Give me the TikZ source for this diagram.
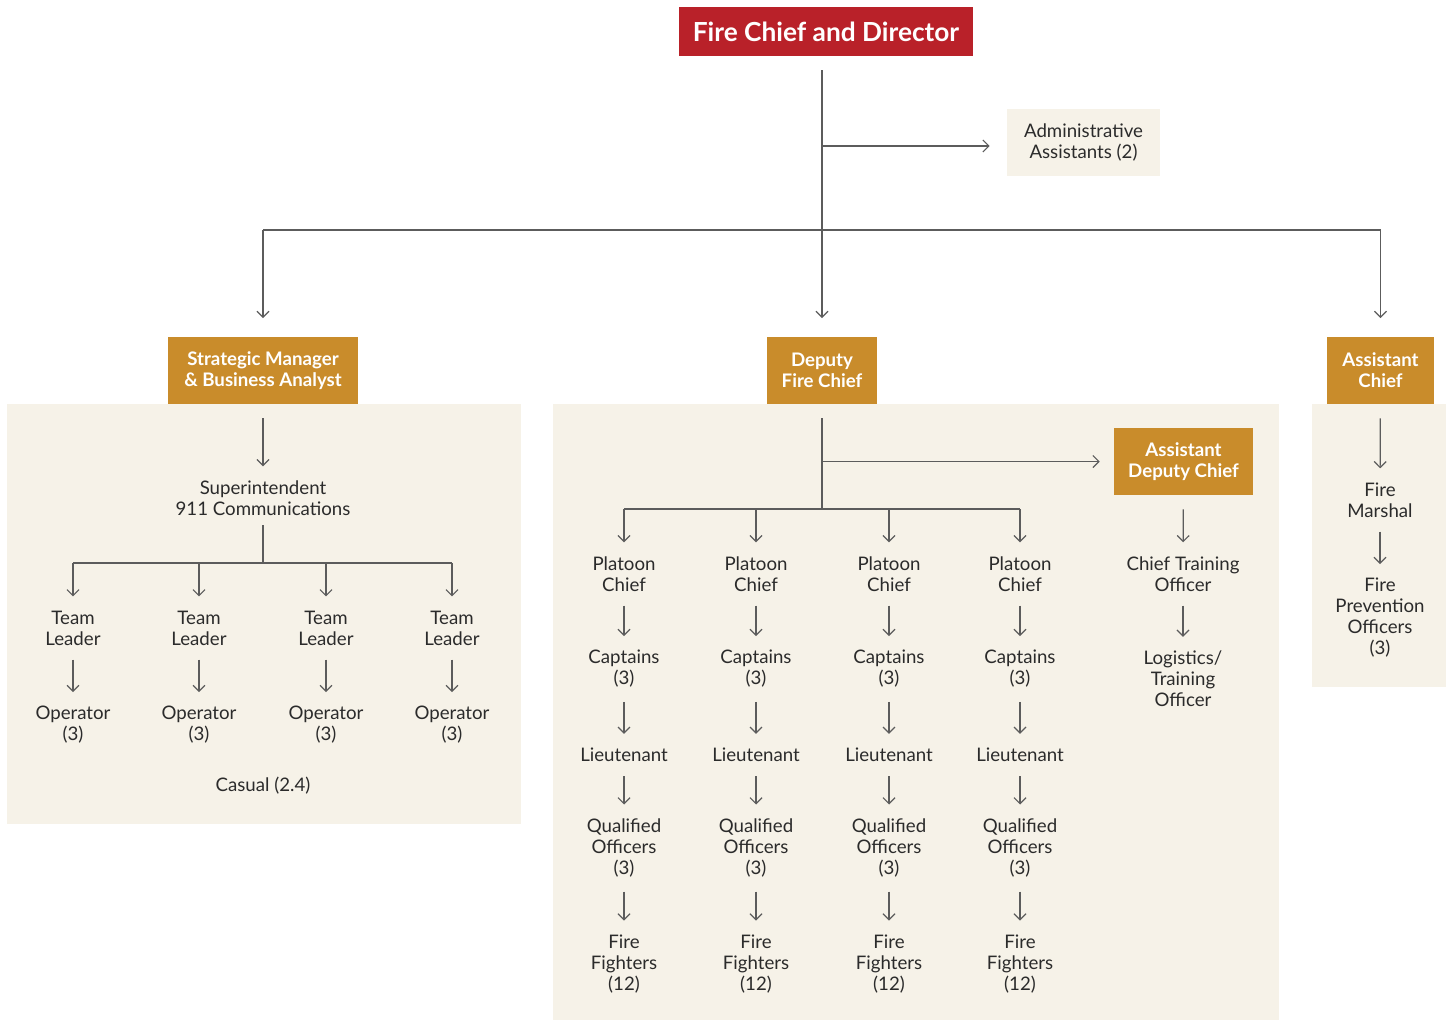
\documentclass[tikz,border=0pt]{standalone}
\usepackage{fontspec}
\setmainfont{Lato}
\usetikzlibrary{arrows.meta,positioning}
\definecolor{chiefred}{HTML}{B92129}
\definecolor{gold}{HTML}{C98C2B}
\definecolor{cream}{HTML}{F6F2E8}
\definecolor{ink}{HTML}{2B2B2B}
\definecolor{wirec}{HTML}{5C5C5C}
\newcommand{\bodyfont}{\fontsize{14}{15.75}\selectfont}

\begin{document}
\begin{tikzpicture}[x=0.75pt, y=-0.75pt,
  wire/.style={draw=wirec, line width=0.9pt},
  link/.style={wire, -{Straight Barb[length=4.5pt,width=9pt]}, shorten >=10.5pt, shorten <=10.5pt},
  drop/.style={link, shorten <=0pt},
  chiefbox/.style={fill=chiefred, text=white, font=\bfseries\fontsize{19.7}{22}\selectfont,
    minimum width=220.5pt, minimum height=36.75pt, inner sep=0pt},
  rolebox/.style={fill=gold, text=white, font=\bfseries\bodyfont, align=center,
    minimum height=50.25pt, inner sep=0pt},
  staff/.style={text=ink, font=\bodyfont, align=center, inner sep=0pt},
  panel/.style={fill=cream}]
  \useasboundingbox (0,0) rectangle (1453,1021);

  % panels
  \fill[panel] (7,404) rectangle (521,824);
  \fill[panel] (553,404) rectangle (1279,1020);
  \fill[panel] (1312,404) rectangle (1446,687);

  % top of the chart
  \node[chiefbox] (chief) at (826,31.5) {Fire Chief and Director};
  \node[staff, fill=cream, minimum width=114.75pt, minimum height=50.25pt] (admin) at (1083.5,142.5) {Administrative\\Assistants (2)};
  \node[rolebox, minimum width=142.5pt] (sm) at (263,370.5) {Strategic Manager\\\& Business Analyst};
  \node[rolebox, minimum width=82.5pt] (dep) at (822,370.5) {Deputy\\Fire Chief};
  \node[rolebox, minimum width=80.25pt] (ac) at (1380.5,370.5) {Assistant\\Chief};
  \coordinate (hbar) at (822,230);
  \coordinate (abar) at (822,146);

  \draw[link, shorten >=14pt] (dep.north |- chief.south) -- (dep);
  \draw[link, shorten <=0pt, shorten >=12.75pt] (abar) -- (abar -| admin.west);
  \draw[wire] (sm.north |- hbar) -- (ac.north |- hbar);
  \draw[drop, shorten >=14pt] (sm.north |- hbar) -- (sm);
  \draw[drop, shorten >=14pt] (ac.north |- hbar) -- (ac);

  % 911 communications
  \node[staff] (sup) at (263,498) {Superintendent\\911 Communications};
  \coordinate (sbar) at (263,563);
  \foreach \x [count=\i] in {73,199,326,452} {
    \node[staff] (tl\i) at (\x,628) {Team\\Leader};
    \node[staff] (op\i) at (\x,725) {Operator\\(3)};
  }
  \node[staff] (cas) at (263,786) {Casual (2.4)};

  \draw[link] (sm) -- (sup);
  \draw[wire, shorten <=7pt] (sup) -- (sbar);
  \draw[wire] (tl1 |- sbar) -- (tl4 |- sbar);
  \foreach \i in {1,...,4} {
    \draw[drop] (tl\i |- sbar) -- (tl\i);
    \draw[link] (tl\i) -- (op\i);
  }

  % deputy fire chief: platoons
  \coordinate (dbar) at (822,509);
  \foreach \x [count=\i] in {624,756,889,1020} {
    \node[staff] (pc\i) at (\x,574) {Platoon\\Chief};
    \node[staff] (cap\i) at (\x,669) {Captains\\(3)};
    \node[staff] (lt\i) at (\x,755) {Lieutenant};
    \node[staff] (qo\i) at (\x,848) {Qualified\\Officers\\(3)};
    \node[staff] (ff\i) at (\x,964) {Fire\\Fighters\\(12)};
  }
  \draw[wire, shorten <=10.5pt] (dep) -- (dbar);
  \draw[wire] (pc1 |- dbar) -- (pc4 |- dbar);
  \foreach \i in {1,...,4} {
    \draw[drop] (pc\i |- dbar) -- (pc\i);
    \draw[link] (pc\i) -- (cap\i);
    \draw[link] (cap\i) -- (lt\i);
    \draw[link] (lt\i) -- (qo\i);
    \draw[link] (qo\i) -- (ff\i);
  }

  % assistant deputy chief
  \node[rolebox, minimum width=104.25pt] (adc) at (1183.5,461.5) {Assistant\\Deputy Chief};
  \node[staff] (cto) at (1183,574) {Chief Training\\Officer};
  \node[staff] (lto) at (1183,679) {Logistics/\\Training\\Officer};
  \draw[drop] (dep.south |- adc) -- (adc);
  \draw[link] (adc) -- (cto);
  \draw[link] (cto) -- (lto);

  % assistant chief
  \node[staff] (fm) at (1380,500) {Fire\\Marshal};
  \node[staff] (fpo) at (1380,618) {Fire\\Prevention\\Officers\\(3)};
  \draw[link] (ac) -- (fm);
  \draw[link] (fm) -- (fpo);
\end{tikzpicture}
\end{document}
